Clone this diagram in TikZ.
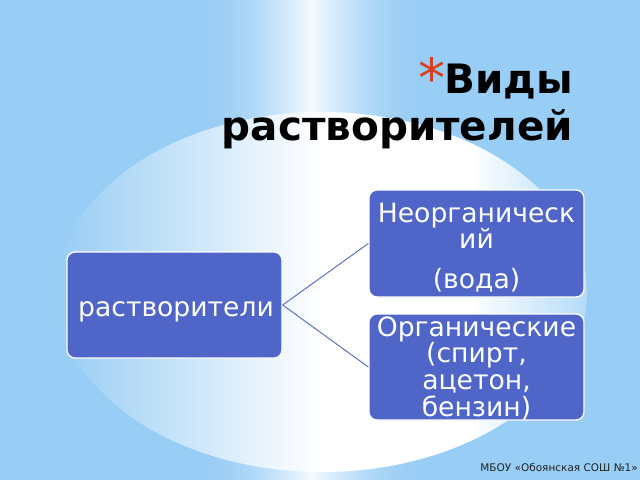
\documentclass[tikz,border=0pt]{standalone}
\usepackage{fontspec}
\setmainfont{DejaVu Sans}
\definecolor{bgblue}{RGB}{152,205,245}
\definecolor{glowmid}{RGB}{214,235,251}
\definecolor{glowright}{RGB}{180,219,248}
\definecolor{boxblue}{RGB}{79,102,200}
\definecolor{linkblue}{RGB}{82,102,186}
\definecolor{starred}{RGB}{214,62,30}
\definecolor{foottext}{RGB}{35,35,35}
\pgfdeclarehorizontalshading{glowshade}{100bp}{color(0bp)=(bgblue); color(25bp)=(bgblue); color(40bp)=(glowmid); color(50bp)=(white); color(64bp)=(white); color(75bp)=(glowright); color(100bp)=(glowright)}
\tikzset{
  box/.style={draw=white, line width=1.3pt, fill=boxblue, rounded corners=8pt, inner sep=0pt, minimum width=215pt},
  boxtext/.style={text=white, font=\fontsize{26.6}{26.7}\selectfont, align=center, inner sep=0pt},
  link/.style={draw=linkblue, line width=0.9pt},
}
\begin{document}
\begin{tikzpicture}[x=1pt,y=-1pt]
\useasboundingbox (0,0) rectangle (640,480);
% background
\fill[bgblue] (0,0) rectangle (640,480);
\foreach \i in {-120,-118,...,118}{
  \pgfmathsetmacro{\op}{0.92*(1-abs(\i+1)/120)^2}
  \fill[white, opacity=\op] (312+\i,0) rectangle (314.2+\i,480);
}
\shade[shading=glowshade] (322,292) ellipse [x radius=265, y radius=180];
% title
\node[anchor=north east, inner sep=0pt, align=right, font=\bfseries\fontsize{40.5}{47}\selectfont] (title) at (573,63.8) {Виды\\растворителей};
\node[anchor=base west, inner sep=0pt, text=starred, font=\fontsize{54}{54}\selectfont] (star) at (418.5,97) {*};
% boxes
\node[box, minimum height=106pt] (root) at (174.5,305) {};
\node[box, minimum height=107pt] (inorg) at (476.5,243.5) {};
\node[box, minimum height=106pt] (org) at (476.5,367) {};
\draw[link] (root.east) -- (inorg.west);
\draw[link] (root.east) -- (org.west);
% box texts
\node[boxtext, anchor=base] (roott) at (176,316) {растворители};
\node[boxtext, anchor=north] (inorgt) at (476.5,202.6) {Неорганическ\\ий\\[12.6pt](вода)};
\node[boxtext, anchor=north] (orgt) at (476.5,316.3) {Органические\\(спирт,\\ацетон,\\бензин)};
% footer
\node[anchor=base east, inner sep=0pt, text=foottext, font=\fontsize{10.5}{12}\selectfont] (foot) at (638,471) {МБОУ «Обоянская СОШ №1»};
\end{tikzpicture}
\end{document}
